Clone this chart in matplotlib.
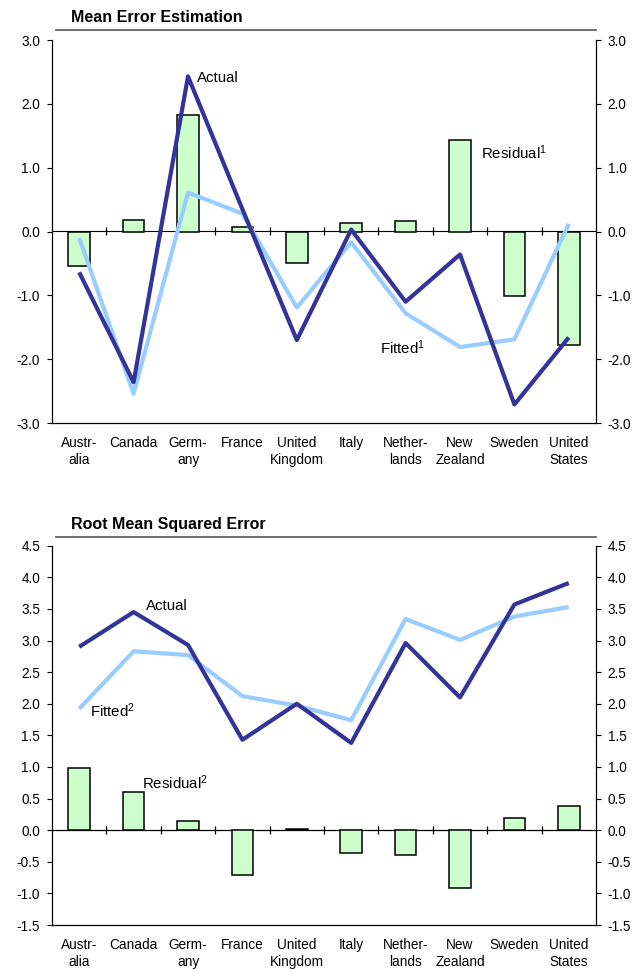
import numpy as np
import matplotlib
matplotlib.use('Agg')
import matplotlib.pyplot as plt
from matplotlib.lines import Line2D

plt.rcParams['font.family'] = ['Liberation Sans', 'DejaVu Sans']
plt.rcParams['mathtext.fontset'] = 'custom'
plt.rcParams['mathtext.rm'] = 'Liberation Sans'
plt.rcParams['mathtext.default'] = 'regular'

countries = ['Austr-\nalia', 'Canada', 'Germ-\nany', 'France', 'United\nKingdom',
             'Italy', 'Nether-\nlands', 'New\nZealand', 'Sweden', 'United\nStates']

# mean error estimation
me_actual = [-0.64, -2.36, 2.43, 0.35, -1.70, 0.03, -1.10, -0.36, -2.71, -1.66]
me_fitted = [-0.10, -2.54, 0.61, 0.28, -1.19, -0.17, -1.28, -1.81, -1.69, 0.12]
me_resid = [-0.54, 0.18, 1.82, 0.07, -0.50, 0.14, 0.17, 1.43, -1.01, -1.78]

# root mean squared error
rm_actual = [2.90, 3.45, 2.93, 1.43, 2.00, 1.38, 2.96, 2.10, 3.57, 3.91]
rm_fitted = [1.92, 2.83, 2.77, 2.12, 1.97, 1.74, 3.34, 3.01, 3.38, 3.53]
rm_resid = [0.98, 0.60, 0.15, -0.71, 0.02, -0.36, -0.39, -0.92, 0.20, 0.38]

DARK = '#333399'
LIGHT = '#99CCFF'
BAR = '#CCFFCC'

fig = plt.figure(figsize=(6.36, 9.71), dpi=100)


def panel(rect, title, tline_y, actual, fitted, resid, ylim, yticks, labels):
    ax = fig.add_axes(rect)
    x = np.arange(len(countries))
    ax.bar(x, resid, width=0.4, color=BAR, edgecolor='black', linewidth=1.1, zorder=2)
    ax.plot(x, fitted, color=LIGHT, lw=3.0, zorder=3, solid_capstyle='butt')
    ax.plot(x, actual, color=DARK, lw=3.0, zorder=4, solid_capstyle='butt')
    ax.set_xlim(-0.5, len(countries) - 0.5)
    ax.set_ylim(*ylim)
    ax.set_yticks(yticks)
    ax.set_yticklabels(['%.1f' % t for t in yticks])
    ax.set_xticks(x)
    ax.set_xticklabels(countries, fontsize=9.8, linespacing=1.35)
    ax.tick_params(axis='x', length=0, pad=9)
    ax.tick_params(axis='y', direction='out', length=3.5, width=0.8, labelsize=9.8,
                   right=True, labelright=True, pad=5)
    ax.spines['top'].set_visible(False)
    for s in ['left', 'right', 'bottom']:
        ax.spines[s].set_linewidth(0.9)
    # zero line with category boundary ticks
    loc = (0 - ylim[0]) / (ylim[1] - ylim[0])
    sec = ax.secondary_xaxis(loc)
    sec.set_xticks(np.arange(0.5, len(countries) - 1, 1.0))
    sec.set_xticklabels([])
    sec.tick_params(direction='inout', length=6, width=0.9)
    sec.spines['bottom'].set_linewidth(0.9)
    for txt, tx, ty in labels:
        ax.text(tx, ty, txt, fontsize=10.8, ha='left', va='center', zorder=5)
    fig.text(rect[0] + 0.03, tline_y + 0.013, title, fontsize=11.5, fontweight='bold',
             ha='left', va='center')
    fig.add_artist(Line2D([56 / 636, 596 / 636], [tline_y, tline_y],
                          color='#555555', lw=1.2, transform=fig.transFigure))
    return ax


panel([52 / 636, 548 / 971, 544 / 636, 383 / 971], 'Mean Error Estimation', 1 - 29.7 / 971,
      me_actual, me_fitted, me_resid, (-3.0, 3.0), np.arange(-3.0, 3.01, 1.0),
      [('Actual', 2.17, 2.40), ('Residual$^{1}$', 7.38, 1.23), ('Fitted$^{1}$', 5.53, -1.82)])

panel([52 / 636, 46 / 971, 544 / 636, 379.3 / 971], 'Root Mean Squared Error', 1 - 536.7 / 971,
      rm_actual, rm_fitted, rm_resid, (-1.5, 4.5), np.arange(-1.5, 4.51, 0.5),
      [('Actual', 1.23, 3.55), ('Fitted$^{2}$', 0.20, 1.89), ('Residual$^{2}$', 1.15, 0.75)])

fig.savefig('out.png', dpi=100)
